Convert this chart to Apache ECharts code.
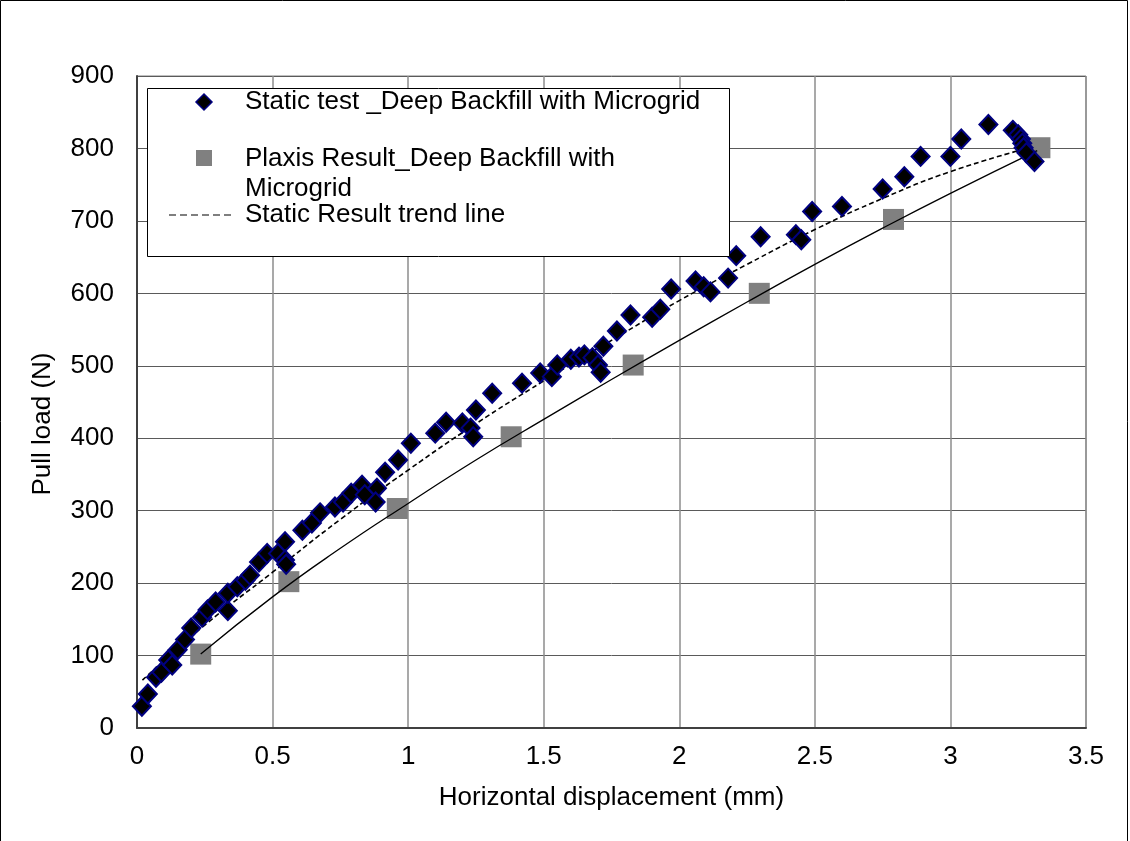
<!DOCTYPE html>
<html>
<head>
<meta charset="utf-8">
<script src="https://cdn.jsdelivr.net/npm/echarts@6/dist/echarts.min.js"></script>
<style>
html,body{margin:0;padding:0;background:#fff;}
#chart{width:1130px;height:841px;}
</style>
</head>
<body>
<div id="chart"></div>
<script>
// Static test measurements (displacement mm, load N)
const staticX = [0.018,0.04,0.07,0.09,0.115,0.13,0.15,0.177,0.2,0.24,0.26,0.29,0.335,0.335,0.37,0.40,0.417,0.45,0.48,0.52,0.546,0.546,0.55,0.61,0.645,0.675,0.73,0.76,0.79,0.83,0.84,0.885,0.88,0.915,0.963,1.01,1.10,1.14,1.20,1.23,1.24,1.25,1.31,1.42,1.487,1.53,1.55,1.60,1.63,1.65,1.68,1.70,1.71,1.72,1.77,1.82,1.90,1.93,1.97,2.06,2.09,2.115,2.18,2.21,2.30,2.43,2.45,2.49,2.60,2.75,2.83,2.89,3.00,3.04,3.14,3.23,3.25,3.26,3.265,3.27,3.28,3.31];
const staticY = [30,47,70,77,94,87,108,122,138,153,163,174,162,186,195,204,211,229,241,241,257,232,226,273,283,297,305,312,324,335,322,331,312,353,370,393,407,422,421,414,402,439,462,476,490,485,501,509,512,515,511,501,491,527,548,570,567,578,606,617,609,602,621,652,678,681,674,713,720,744,761,789,789,813,833,825,819,813,807,801,794,782];
// Plaxis results
const plaxisX = [0.235,0.56,0.96,1.38,1.83,2.295,2.79,3.33];
const plaxisY = [102,202,303,402,501,600,702,801];
// Plaxis trend line (solid)
const plaxisTrendX = [0.235,0.5,0.75,1.0,1.25,1.5,1.75,2.0,2.25,2.5,2.75,3.0,3.32];
const plaxisTrendY = [102,181,248,310,370,426,481,535,588,640,690,738,797];
// Static result trend line (dashed)
const staticTrendX = [0.02,0.25,0.5,0.75,1.0,1.25,1.5,1.75,2.0,2.25,2.5,2.75,3.0,3.3];
const staticTrendY = [66,142,215,288,356,420,479,535,590,640,688,731,768,802];
// Axis ticks
const xTicks = {min:0,max:3.5,interval:0.5};
const yTicks = {min:0,max:900,interval:100};

const zip = (a,b) => a.map((v,i)=>[v,b[i]]);
const FONT = '"Liberation Sans", Arial, sans-serif';
const FS = 26;

const chart = echarts.init(document.getElementById('chart'));
chart.setOption({
  animation:false,
  backgroundColor:'#fff',
  grid:{left:137,right:44,top:76,bottom:113,show:true,borderColor:'#808080',borderWidth:1,backgroundColor:'transparent'},
  xAxis:{
    type:'value',min:xTicks.min,max:xTicks.max,interval:xTicks.interval,
    name:'Horizontal displacement (mm)',nameLocation:'middle',nameGap:57,
    nameTextStyle:{fontFamily:FONT,fontSize:FS,color:'#000'},
    axisLine:{show:true,onZero:false,lineStyle:{color:'#404040',width:2}},
    axisTick:{show:false},
    axisLabel:{fontFamily:FONT,fontSize:FS,color:'#000',margin:16},
    splitLine:{show:true,lineStyle:{color:'#8c8c8c',width:1.5}}
  },
  yAxis:{
    type:'value',min:yTicks.min,max:yTicks.max,interval:yTicks.interval,
    name:'Pull load (N)',nameLocation:'middle',nameGap:81,nameRotate:90,
    nameTextStyle:{fontFamily:FONT,fontSize:FS,color:'#000',padding:[0,44,0,0]},
    axisLine:{show:true,lineStyle:{color:'#404040',width:2}},
    axisTick:{show:false},
    axisLabel:{fontFamily:FONT,fontSize:FS,color:'#000',margin:23},
    splitLine:{show:true,lineStyle:{color:'#5a5a5a',width:1}}
  },
  series:[
    {name:'Plaxis Result_Deep Backfill with Microgrid',type:'scatter',data:zip(plaxisX,plaxisY),
     symbol:'rect',symbolSize:21,itemStyle:{color:'#808080',opacity:1},z:2},
    {name:'Plaxis trend',type:'line',data:zip(plaxisTrendX,plaxisTrendY),smooth:true,showSymbol:false,symbol:'none',
     lineStyle:{color:'#000',width:1.3},z:3},
    {name:'Static Result trend line',type:'line',data:zip(staticTrendX,staticTrendY),smooth:true,showSymbol:false,symbol:'none',
     lineStyle:{color:'#000',width:1.6,type:[5,3]},z:4},
    {name:'Static test _Deep Backfill with Microgrid',type:'scatter',data:zip(staticX,staticY),
     symbol:'diamond',symbolSize:[18,19],itemStyle:{color:'#000',borderColor:'#000080',borderWidth:2,opacity:1},z:5}
  ],
  graphic:[
    {type:'rect',shape:{x:0.5,y:0.5,width:1127,height:850},style:{fill:'none',stroke:'#000',lineWidth:1},z:0,silent:true},
    {type:'rect',z:100,zlevel:1,shape:{x:147.5,y:88.5,width:582,height:168},style:{fill:'#fff',stroke:'#000',lineWidth:1}},
    {type:'polygon',z:101,zlevel:1,shape:{points:[[204,94],[212,102],[204,110],[196,102]]},style:{fill:'#000',stroke:'#000080',lineWidth:1.5}},
    {type:'text',z:101,zlevel:1,x:245,y:102,style:{text:'Static test _Deep Backfill with Microgrid',font:FS+'px '+FONT,fill:'#000',verticalAlign:'middle'}},
    {type:'rect',z:101,zlevel:1,shape:{x:196,y:150,width:16,height:16},style:{fill:'#808080'}},
    {type:'text',z:101,zlevel:1,x:245,y:159,style:{text:'Plaxis Result_Deep Backfill with',font:FS+'px '+FONT,fill:'#000',verticalAlign:'middle'}},
    {type:'text',z:101,zlevel:1,x:245,y:189,style:{text:'Microgrid',font:FS+'px '+FONT,fill:'#000',verticalAlign:'middle'}},
    {type:'line',z:101,zlevel:1,shape:{x1:169,y1:215,x2:231,y2:215},style:{stroke:'#000',lineWidth:1.2,lineDash:[7,4]}},
    {type:'text',z:101,zlevel:1,x:245,y:215,style:{text:'Static Result trend line',font:FS+'px '+FONT,fill:'#000',verticalAlign:'middle'}}
  ]
});
</script>
</body>
</html>
